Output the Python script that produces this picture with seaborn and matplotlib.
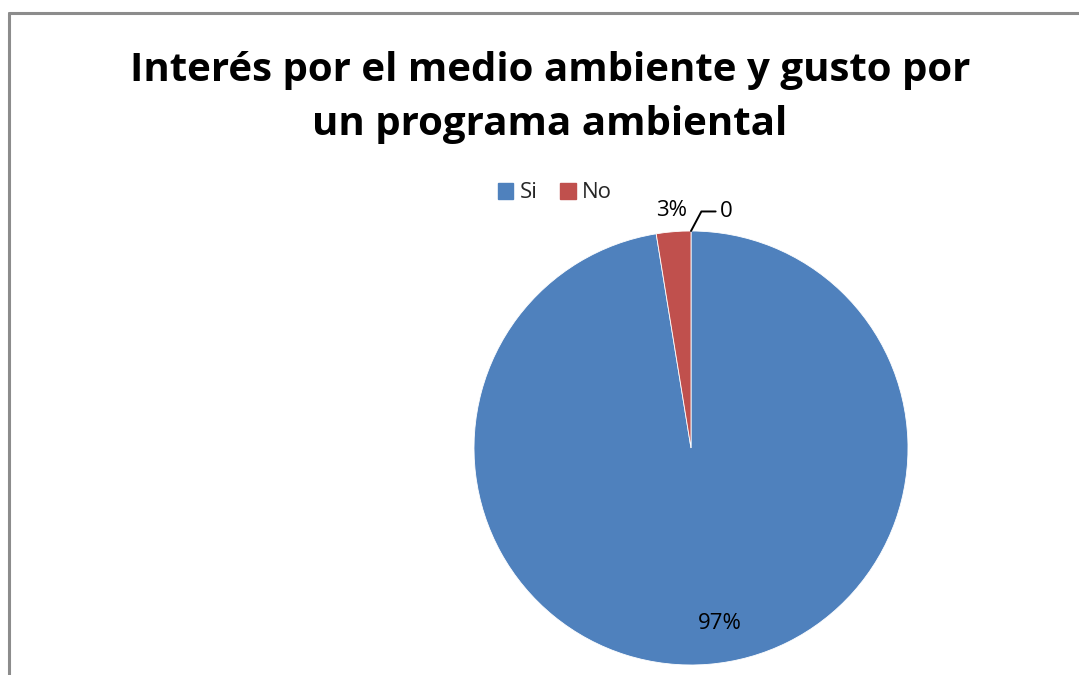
import numpy as np
import matplotlib
matplotlib.use("Agg")
import matplotlib.pyplot as plt
import seaborn as sns

categories = ["Si", "No", ""]
values = [38, 1, 0]
colors = ["#4F81BD", "#C0504D", "#9BBB59"]

sns.set_theme(style="white")
plt.rcParams['font.family'] = ['Open Sans', 'DejaVu Sans']

W, H = 1079, 675
fig = plt.figure(figsize=(W / 100, H / 100), dpi=100)
fig.patch.set_facecolor("white")

# border
fig.add_artist(plt.Line2D([9 / W, 9 / W], [0, 1 - 13 / H], color="#8c8c8c", lw=2.2,
                          transform=fig.transFigure))
fig.add_artist(plt.Line2D([9 / W, 1], [1 - 13 / H, 1 - 13 / H], color="#8c8c8c", lw=2.2,
                          transform=fig.transFigure))

fig.text(550 / W, 1 - 97 / H, "Interés por el medio ambiente y gusto por\nun programa ambiental",
         ha="center", va="center", fontsize=29, fontweight="bold", color="black",
         linespacing=1.5)

cx, cy, r = 691, 448, 217
ax = fig.add_axes([(cx - r) / W, (H - cy - r) / H, 2 * r / W, 2 * r / H])
wedges, _ = ax.pie(values[:2], colors=colors[:2], startangle=90, counterclock=False,
                   radius=1.0, wedgeprops=dict(linewidth=0.6, edgecolor="white"))
ax.set_xlim(-1, 1)
ax.set_ylim(-1, 1)
ax.set_aspect("equal")
ax.axis("off")

total = sum(values)
# data labels
for w, val in zip(wedges, values[:2]):
    mid = np.deg2rad((w.theta1 + w.theta2) / 2)
    pct = 100 * val / total
    big = pct > 50
    dist = 0.79 if big else 1.10
    ax.text(dist * np.cos(mid) + (0.07 if big else 0), dist * np.sin(mid) - (0.02 if big else 0),
            f"{pct:.0f}%", ha="center", va="center", fontsize=16, color="black")

# zero-value label with leader line
ax.annotate(f"{values[2]}", xy=(0, 1.0), xytext=(0.135, 1.09), ha="left", va="center",
            fontsize=16, color="black", annotation_clip=False,
            arrowprops=dict(arrowstyle="-", color="black", lw=1.4,
                            connectionstyle="angle,angleA=0,angleB=62,rad=0",
                            shrinkA=1, shrinkB=0))

# legend
handles = [plt.Rectangle((0, 0), 1, 1, color=c) for c in colors[:2]]
fig.legend(handles, categories[:2], loc="center", bbox_to_anchor=(555 / W, 1 - 193 / H),
           ncol=2, frameon=False, fontsize=16, handlelength=0.7, handleheight=0.7,
           handletextpad=0.3, columnspacing=1.0)

fig.savefig("out.png", dpi=100, facecolor="white")
